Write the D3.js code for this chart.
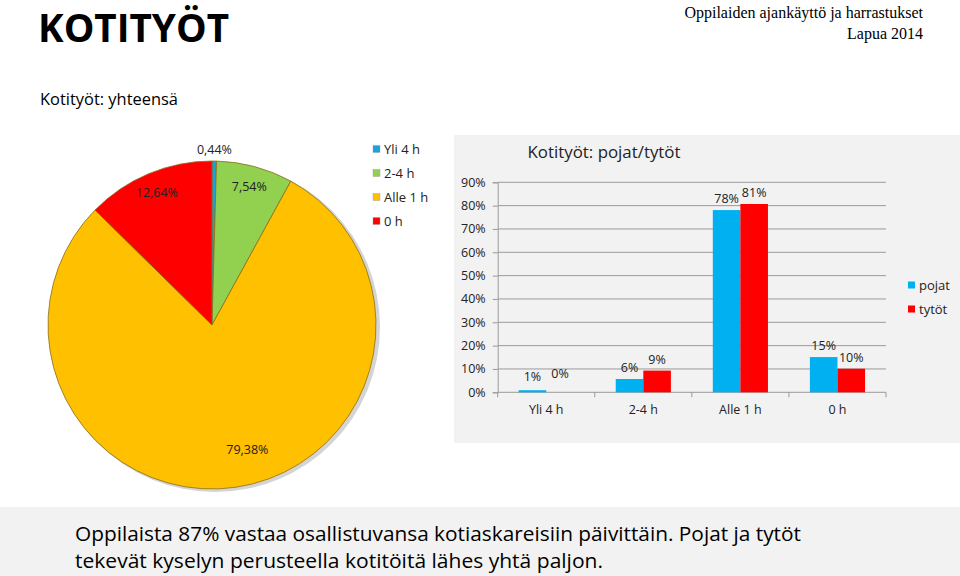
<!DOCTYPE html>
<html><head><meta charset="utf-8">
<script src="https://cdn.jsdelivr.net/npm/d3@7"></script>
<style>
html,body{margin:0;padding:0;background:#fff;}
svg{display:block;}
text{font-family:"Open Sans","Noto Sans",sans-serif;}
</style></head>
<body><svg id="c" width="960" height="576"></svg>
<script>
// ---- data ----
const pieCategories = ["Yli 4 h", "2-4 h", "Alle 1 h", "0 h"];
const pieValues = [0.44, 7.54, 79.38, 12.64];
const pieLabels = ["0,44%", "7,54%", "79,38%", "12,64%"];
const pieColors = ["#1BA1E2", "#92D050", "#FFC000", "#FF0000"];

const barCategories = ["Yli 4 h", "2-4 h", "Alle 1 h", "0 h"];
const barSeries = ["pojat", "tytöt"];
const pojatValues = [0.9, 5.7, 78.1, 15.1];
const tytotValues = [0.0, 9.3, 80.7, 10.1];
const barColors = ["#00B0F0", "#FF0000"];
const yTicks = [0, 10, 20, 30, 40, 50, 60, 70, 80, 90];

const svg = d3.select("#c");

// ---- backgrounds ----
svg.append("rect").attr("x", 454).attr("y", 135).attr("width", 506).attr("height", 308).attr("fill", "#F2F2F2");
svg.append("rect").attr("x", 0).attr("y", 507).attr("width", 960).attr("height", 69).attr("fill", "#F2F2F2");

// ---- headings ----
svg.append("text").attr("x", 38).attr("y", 42).attr("font-size", 40).attr("font-weight", 700)
  .attr("textLength", 191).attr("lengthAdjust", "spacingAndGlyphs").attr("fill", "#000").text("KOTITYÖT");
svg.append("text").attr("x", 40).attr("y", 105).attr("font-size", 17)
  .attr("textLength", 138).attr("lengthAdjust", "spacingAndGlyphs").attr("fill", "#000").text("Kotityöt: yhteensä");
svg.append("text").attr("x", 923).attr("y", 18).attr("text-anchor", "end")
  .style("font-family", "'Liberation Serif','DejaVu Serif',serif").attr("font-size", 16).attr("fill", "#000")
  .text("Oppilaiden ajankäyttö ja harrastukset");
svg.append("text").attr("x", 923).attr("y", 39).attr("text-anchor", "end")
  .style("font-family", "'Liberation Serif','DejaVu Serif',serif").attr("font-size", 16).attr("fill", "#000")
  .text("Lapua 2014");

// ---- pie ----
const cx = 212, cy = 325, R = 164;
const pg = svg.append("g").attr("transform", `translate(${cx},${cy})`);
pg.append("circle").attr("cx", 3).attr("cy", 2).attr("r", R + 1).attr("fill", "#D4D4D4");
const pie = d3.pie().sort(null).value(d => d)(pieValues);
const arc = d3.arc().innerRadius(0).outerRadius(R);
pg.selectAll("path.slice").data(pie).join("path").attr("class", "slice")
  .attr("d", arc).attr("fill", (d, i) => pieColors[i])
  .attr("stroke", "#8C6D1F").attr("stroke-width", 0.8);
const labelArc = d3.arc().innerRadius(R * 0.87).outerRadius(R * 0.87);
pg.selectAll("text.pl").data(pie).join("text").attr("class", "pl")
  .attr("font-size", 12.5).attr("text-anchor", "middle").attr("fill", "#222")
  .attr("transform", (d, i) => {
    let p;
    if (d.data < 1) {
      const a = (d.startAngle + d.endAngle) / 2;
      p = [Math.sin(a) * (R + 11), -Math.cos(a) * (R + 11)];
    } else if (d.data > 50) {
      const a = (d.startAngle + d.endAngle) / 2 - 0.13;
      p = [Math.sin(a) * R * 0.79, -Math.cos(a) * R * 0.79];
    } else {
      p = labelArc.centroid(d);
    }
    return `translate(${p[0]},${p[1] + 4})`;
  })
  .text((d, i) => pieLabels[i]);

// pie legend
const lg = svg.append("g");
pieCategories.forEach((c, i) => {
  const y = 149 + i * 24;
  lg.append("rect").attr("x", 373).attr("y", y - 3.5).attr("width", 7).attr("height", 7)
    .attr("fill", pieColors[i]).attr("stroke", "#999").attr("stroke-width", 0.4);
  lg.append("text").attr("x", 384).attr("y", y + 4.5).attr("font-size", 13).attr("fill", "#222").text(c);
});

// ---- bar chart ----
const x0 = d3.scaleBand().domain(barCategories).range([497.7, 886]).paddingInner(0).paddingOuter(0);
const x1 = d3.scaleBand().domain(barSeries).range([0, x0.bandwidth()]).paddingInner(0).paddingOuter(0.76);
const y = d3.scaleLinear().domain([0, 90]).range([392.3, 182.3]);

svg.append("text").attr("x", 604).attr("y", 158).attr("text-anchor", "middle").attr("font-size", 16.5)
  .attr("textLength", 153).attr("lengthAdjust", "spacingAndGlyphs").attr("fill", "#222").text("Kotityöt: pojat/tytöt");

const bg = svg.append("g");
// gridlines
bg.selectAll("line.grid").data(yTicks.slice(1)).join("line").attr("class", "grid")
  .attr("x1", 497.7).attr("x2", 886).attr("y1", d => y(d)).attr("y2", d => y(d))
  .attr("stroke", "#9A9A9A").attr("stroke-width", 1);

// y axis
const yAxis = d3.axisLeft(y).tickValues(yTicks).tickSize(5).tickFormat(d => d + "%");
const ya = svg.append("g").attr("transform", "translate(497.7,0)").call(yAxis);
ya.select(".domain").attr("stroke", "#9A9A9A");
ya.selectAll(".tick line").attr("stroke", "#9A9A9A");
ya.selectAll(".tick text").attr("font-size", 12.5).attr("fill", "#222").attr("x", -12)
  .style("font-family", "'Open Sans',sans-serif");

// x axis
const xa = svg.append("g").attr("transform", "translate(0,392.3)");
xa.append("line").attr("x1", 497.7).attr("x2", 886).attr("stroke", "#9A9A9A");
const edges = barCategories.map(c => x0(c)).concat([x0.range()[1]]);
xa.selectAll("line.tk").data(edges).join("line").attr("class", "tk")
  .attr("x1", d => d).attr("x2", d => d).attr("y1", 0).attr("y2", 5).attr("stroke", "#9A9A9A");
xa.selectAll("text").data(barCategories).join("text")
  .attr("x", d => x0(d) + x0.bandwidth() / 2).attr("y", 22).attr("text-anchor", "middle")
  .attr("font-size", 12.5).attr("fill", "#222").text(d => d);

const seriesValues = [pojatValues, tytotValues];
barSeries.forEach((s, si) => {
  const g = svg.append("g");
  g.selectAll("rect").data(barCategories).join("rect")
    .attr("x", c => x0(c) + x1(s)).attr("width", x1.bandwidth())
    .attr("y", (c, i) => y(seriesValues[si][i]))
    .attr("height", (c, i) => y(0) - y(seriesValues[si][i]))
    .attr("fill", barColors[si]);
  g.selectAll("text").data(barCategories).join("text")
    .attr("x", c => x0(c) + x1(s) + x1.bandwidth() / 2)
    .attr("y", (c, i) => y(seriesValues[si][i]) - (si === 0 && i === 0 ? 9 : 7) - (si === 1 && i === 0 ? 7 : 0))
    .attr("text-anchor", "middle").attr("font-size", 12.5).attr("fill", "#222")
    .text((c, i) => Math.round(seriesValues[si][i]) + "%");
});

// bar legend
barSeries.forEach((s, i) => {
  const yy = 285 + i * 24;
  svg.append("rect").attr("x", 908).attr("y", yy - 3.5).attr("width", 7).attr("height", 7).attr("fill", barColors[i]);
  svg.append("text").attr("x", 919).attr("y", yy + 4.5).attr("font-size", 13).attr("fill", "#222").text(s);
});

// ---- bottom text ----
svg.append("text").attr("x", 75).attr("y", 541).attr("font-size", 20.5).attr("fill", "#000")
  .attr("textLength", 726).attr("lengthAdjust", "spacingAndGlyphs")
  .text("Oppilaista 87% vastaa osallistuvansa kotiaskareisiin päivittäin. Pojat ja tytöt");
svg.append("text").attr("x", 75).attr("y", 568).attr("font-size", 20.5).attr("fill", "#000")
  .attr("textLength", 528).attr("lengthAdjust", "spacingAndGlyphs")
  .text("tekevät kyselyn perusteella kotitöitä lähes yhtä paljon.");
</script></body></html>
